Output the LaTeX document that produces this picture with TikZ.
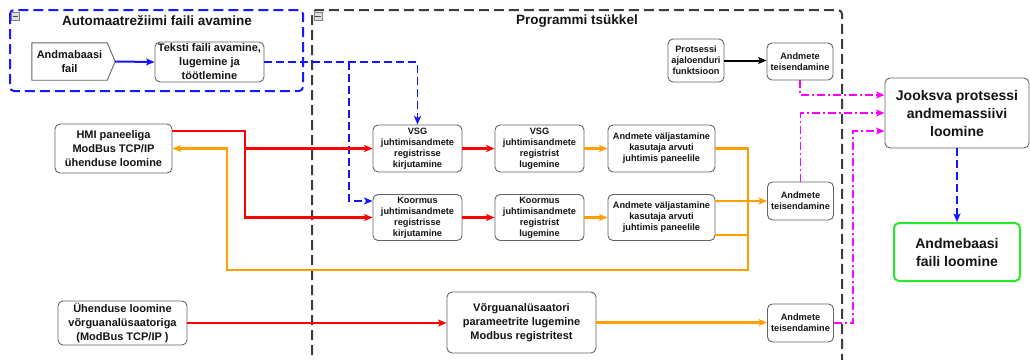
\documentclass[tikz,border=0pt]{standalone}
\usepackage{fontspec}
\setmainfont{Liberation Sans}
\usetikzlibrary{arrows.meta,calc}

\definecolor{grpblue}{RGB}{25,25,255}
\definecolor{grpgray}{RGB}{60,60,60}
\definecolor{boxgray}{RGB}{100,100,100}
\definecolor{txt}{RGB}{20,20,20}
\definecolor{flowred}{RGB}{255,0,0}
\definecolor{floworange}{RGB}{255,160,0}
\definecolor{flowmag}{RGB}{255,0,255}
\definecolor{flowblue}{RGB}{20,20,255}
\definecolor{dbgreen}{RGB}{40,235,40}

\begin{document}
\begin{tikzpicture}[x=1pt,y=-1pt,
  box/.style={draw=boxgray, line width=0.9pt, rounded corners=5pt, fill=white,
    align=center, inner sep=0pt, text=txt},
  fs/.style={font=\fontsize{9.2}{11}\selectfont\bfseries},
  fm/.style={font=\fontsize{11}{14}\selectfont\bfseries},
  fl/.style={font=\fontsize{14}{18}\selectfont\bfseries},
  ftitle/.style={font=\fontsize{13.5}{16}\selectfont\bfseries, text=txt, inner sep=0pt},
  tip/.style={-{Stealth[length=8.5pt,width=7pt,inset=2pt]}},
  redflow/.style={draw=flowred, line width=2.4pt},
  orangeflow/.style={draw=floworange, line width=2.2pt},
  blueflow/.style={draw=flowblue, line width=2pt},
  bluedashflow/.style={draw=flowblue, line width=1.8pt, dash pattern=on 8pt off 4pt},
  magflow/.style={draw=flowmag, line width=1.5pt, dash pattern=on 8pt off 3pt on 2pt off 3pt},
  blackflow/.style={draw=black, line width=2pt},
  iconbox/.style={draw=gray, fill=gray!25, line width=0.5pt, minimum size=8pt, inner sep=0pt},
]
\useasboundingbox (0,0) rectangle (1030,359);

% ---- group frames ----
\draw[draw=grpblue, line width=2pt, dash pattern=on 10pt off 5pt, rounded corners=4pt]
  (10,10) rectangle (303,91);
\node[ftitle] (gtitle1) at (157,21) {Automaatrežiimi faili avamine};
\node[iconbox] (gicon1) at (15.5,16) {};
\draw[line width=0.8pt, draw=black!70] ([xshift=1.5pt]gicon1.west) -- ([xshift=-1.5pt]gicon1.east);

\draw[draw=grpgray, line width=2pt, dash pattern=on 10pt off 5pt, rounded corners=4pt]
  (312,370) -- (312,10) -- (842,10) -- (842,370);
\node[ftitle] (gtitle2) at (577,21) {Programmi tsükkel};
\node[iconbox] (gicon2) at (318,16.5) {};
\draw[line width=0.8pt, draw=black!70] ([xshift=1.5pt]gicon2.west) -- ([xshift=-1.5pt]gicon2.east);

% ---- nodes ----
\node[fm, text=txt, align=center, inner sep=0pt, minimum width=75pt, minimum height=37pt] (andfail) at (69.5,61.5) {};
\coordinate (andtip) at ($(andfail.east)+(8,0)$);
\draw[draw=boxgray, line width=0.9pt, fill=white]
  (andfail.north west) -- (andfail.north east) -- (andtip) -- (andfail.south east) -- (andfail.south west) -- cycle;
\node[fm, text=txt, align=center] at (andfail.center) {Andmabaasi\\fail};

\node[box,fm,minimum width=109pt,minimum height=40pt] (teksti) at (209.5,62) {Teksti faili avamine,\\lugemine ja\\töötlemine};
\node[box,fm,minimum width=117pt,minimum height=49pt] (hmi) at (113.5,148.5) {HMI paneeliga\\ModBus TCP/IP\\ühenduse loomine};

\node[box,fs,minimum width=89pt,minimum height=47pt] (vsgw) at (417.5,148.5) {VSG\\juhtimisandmete\\registrisse\\kirjutamine};
\node[box,fs,minimum width=89pt,minimum height=47pt] (vsgr) at (539.5,148.5) {VSG\\juhtimisandmete\\registrist\\lugemine};
\node[box,fs,minimum width=107pt,minimum height=47pt] (out1) at (661.5,148.5) {Andmete väljastamine\\kasutaja arvuti\\juhtimis paneelile};

\node[box,fs,minimum width=89pt,minimum height=46pt] (kw) at (417.5,217.5) {Koormus\\juhtimisandmete\\registrisse\\kirjutamine};
\node[box,fs,minimum width=89pt,minimum height=46pt] (kr) at (539.5,217.5) {Koormus\\juhtimisandmete\\registrist\\lugemine};
\node[box,fs,minimum width=107pt,minimum height=46pt] (out2) at (661.5,217.5) {Andmete väljastamine\\kasutaja arvuti\\juhtimis paneelile};

\node[box,fs,minimum width=56pt,minimum height=43pt] (prot) at (696,60.5) {Protsessi\\ajaloenduri\\funktsioon};
\node[box,fs,minimum width=66pt,minimum height=37pt] (tr1) at (800,61.5) {Andmete\\teisendamine};
\node[box,fs,minimum width=66pt,minimum height=38pt] (tr2) at (800.5,201) {Andmete\\teisendamine};
\node[box,fs,minimum width=66pt,minimum height=38pt] (tr3) at (800.5,323) {Andmete\\teisendamine};

\node[box,fl,minimum width=144pt,minimum height=70pt] (jook) at (957,113) {Jooksva protsessi\\andmemassiivi\\loomine};
\node[box,fl,draw=dbgreen,line width=2pt,minimum width=126pt,minimum height=58pt] (dbfile) at (957,252) {Andmebaasi\\faili loomine};

\node[box,fm,minimum width=129pt,minimum height=44pt] (uhend) at (122.5,323) {Ühenduse loomine\\võrguanalüsaatoriga\\(ModBus TCP/IP )};
\node[box,fm,minimum width=149pt,minimum height=61pt] (vorgu) at (521.5,322.5) {Võrguanalüsaatori\\parameetrite lugemine\\Modbus registritest};

% ---- helper points on the routes ----
\coordinate (bsplit) at (349,62);
\coordinate (rx) at (245,131);
\coordinate (ox) at (748,270);
\coordinate (oy) at (227,270);
\coordinate (o2low) at (748,235);
\coordinate (mx) at (853,323);

% ---- connectors ----
\draw[blueflow,tip] (andtip) -- (teksti.west);
\draw[bluedashflow,tip] (teksti.east) -| (vsgw.north);
\draw[bluedashflow,tip] (bsplit) |- ([yshift=16.5pt]kw.west);

\draw[redflow,tip] ([yshift=17.5pt]hmi.east) -- (rx) |- (kw.west);
\draw[redflow,tip] (rx |- vsgw.west) -- (vsgw.west);
\draw[redflow,tip] (vsgw.east) -- (vsgr.west);
\draw[redflow,tip] (kw.east) -- (kr.west);
\draw[redflow,tip] (uhend.east) -- (uhend.east -| vorgu.west);

\draw[orangeflow,tip] (vsgr.east) -- (out1.west);
\draw[orangeflow,tip] (kr.east) -- (out2.west);
\draw[orangeflow,tip] (out1.east) -| (ox) -- (oy) |- (hmi.east);
\draw[orangeflow] ([yshift=-17.5pt]out2.east) -- (o2low);
\draw[orangeflow,tip] ([yshift=16.5pt]out2.east) -- (tr2.west);
\draw[orangeflow,tip] (vorgu.east) -- (vorgu.east -| tr3.west);

\draw[blackflow,tip] (prot.east) -- (prot.east -| tr1.west);

\draw[magflow,tip] (tr1.south) |- ([yshift=18pt]jook.west);
\draw[magflow,tip] (tr2.north) |- (jook.west);
\draw[magflow,tip] (tr3.east) -- (mx) |- ([yshift=-18pt]jook.west);

\draw[bluedashflow,tip] (jook.south) -- (dbfile.north);
\end{tikzpicture}
\end{document}
